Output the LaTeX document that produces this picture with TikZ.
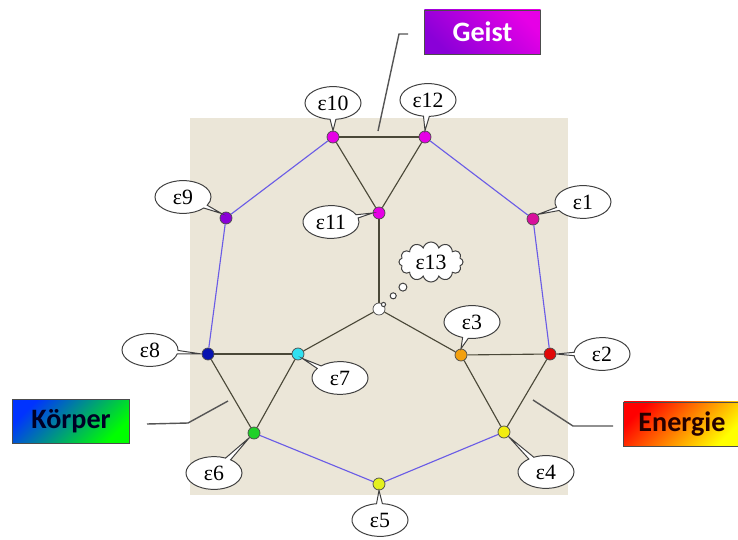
\documentclass[tikz,border=0pt]{standalone}
\usepackage{fontspec}
\setmainfont{Liberation Serif}
\newfontfamily\tagfont{Carlito}
\usetikzlibrary{shapes.geometric, shapes.symbols, shapes.callouts}
\definecolor{cpanel}{HTML}{EBE6D8}
\definecolor{cbond}{HTML}{4A4838}
\definecolor{clink}{HTML}{6A5CE6}
\definecolor{cline}{HTML}{555555}
\definecolor{cmag}{HTML}{E600E6}
\definecolor{cpurple}{HTML}{8A00D8}
\definecolor{cpink}{HTML}{D8109C}
\definecolor{cred}{HTML}{E00808}
\definecolor{corange}{HTML}{F2A010}
\definecolor{cyellow}{HTML}{F2EE10}
\definecolor{clime}{HTML}{E4F020}
\definecolor{cgreen}{HTML}{20D028}
\definecolor{ccyan}{HTML}{30E0F0}
\definecolor{cnavy}{HTML}{0814B0}
\tikzset{
  every picture/.style={line width=0.8pt},
  dot/.style={circle, draw=black!70, line width=0.5pt, fill=#1, inner sep=0pt, minimum size=0.3cm},
  lab/.style={ellipse callout, draw=black!75, fill=white, line width=0.7pt, inner sep=1pt,
    minimum width=1.4cm, minimum height=0.82cm, callout pointer arc=12,
    font=\fontsize{15.5}{15.5}\selectfont},
  bond/.style={draw=cbond},
  link/.style={draw=clink},
  leader/.style={draw=cline, line width=1pt},
  tag/.style={draw=black!70, line width=0.7pt, minimum width=2.9cm, minimum height=1.1cm,
    font=\tagfont\bfseries\fontsize{20}{20}\selectfont},
}

\begin{document}
\begin{tikzpicture}[x=0.025cm, y=-0.025cm]
  \useasboundingbox (0,0) rectangle (738,540);
  \fill[cpanel] (190,118) rectangle (568,495);
  % dots
  \node[dot=cpink] (e1) at (533,219) {};
  \node[dot=cred] (e2) at (550,354) {};
  \node[dot=corange] (e3) at (461,355) {};
  \node[dot=cyellow] (e4) at (504,432) {};
  \node[dot=clime] (e5) at (379,484) {};
  \node[dot=cgreen] (e6) at (254,433) {};
  \node[dot=ccyan] (e7) at (298,354) {};
  \node[dot=cnavy] (e8) at (208,354) {};
  \node[dot=cpurple] (e9) at (226,218) {};
  \node[dot=cmag] (e10) at (333,137) {};
  \node[dot=cmag] (e11) at (379,213) {};
  \node[dot=cmag] (e12) at (425,137) {};
  \node[dot=white] (e13) at (379,309) {};
  % edges
  \foreach \a/\b in {10/12, 10/11, 12/11, 11/13, 13/7, 13/3, 3/2, 3/4, 2/4, 8/7, 8/6, 7/6}
    \draw[bond] (e\a) -- (e\b);
  \foreach \a/\b in {10/9, 9/8, 12/1, 1/2, 6/5, 5/4}
    \draw[link] (e\a) -- (e\b);
  % callouts
  \node[lab, callout absolute pointer={(e10.north)}] (l10) at (333,103) {ε10};
  \node[lab, callout absolute pointer={(e12.north)}] (l12) at (428,100) {ε12};
  \node[lab, callout absolute pointer={(e11.west)}] (l11) at (331,222) {ε11};
  \node[lab, callout absolute pointer={(e9.north west)}] (l9) at (183,197) {ε9};
  \node[lab, callout absolute pointer={(e1.north east)}] (l1) at (583,202) {ε1};
  \node[lab, callout absolute pointer={(e3.north)}] (l3) at (472,322) {ε3};
  \node[lab, callout absolute pointer={(e2.east)}] (l2) at (602,354) {ε2};
  \node[lab, callout absolute pointer={(e8.west)}] (l8) at (150,350) {ε8};
  \node[lab, callout absolute pointer={(e7.south east)}] (l7) at (340,378) {ε7};
  \node[lab, callout absolute pointer={(e6.south west)}] (l6) at (214,473) {ε6};
  \node[lab, callout absolute pointer={(e4.south east)}] (l4) at (546,472) {ε4};
  \node[lab, callout absolute pointer={(e5.south)}] (l5) at (380,520) {ε5};
  \node[cloud callout, draw=black!75, fill=white, line width=0.7pt, cloud puffs=12, aspect=1.7,
    inner sep=0pt, minimum width=1.6cm, minimum height=1cm, font=\fontsize{15.5}{15.5}\selectfont,
    callout pointer start size=7pt, callout pointer end size=3pt, callout pointer segments=3,
    callout absolute pointer={(e13.north east)}] (l13) at (431,262) {ε13};
  % tags
  \node[tag, top color=cmag, bottom color=cpurple, shading angle=-45, text=white] (geist) at (482.5,32) {Geist};
  \node[tag, top color=blue!80!cyan, bottom color=green, shading angle=45, text=black!85!blue] (koerper) at (71,421.5) {Körper};
  \node[tag, top color=red, bottom color=yellow, shading angle=45, text=black!85!red] (energie) at (682,424) {Energie};
  % leaders
  \coordinate (g1) at (378,131); \coordinate (g2) at (399,34); \coordinate (g3) at (408,34);
  \draw[leader] (g1) -- (g2) -- (g3);
  \coordinate (k1) at (228,401); \coordinate (k2) at (188,423); \coordinate (k3) at (147,424);
  \draw[leader] (k1) -- (k2) -- (k3);
  \coordinate (n1) at (533,400); \coordinate (n2) at (573,426); \coordinate (n3) at (613,426);
  \draw[leader] (n1) -- (n2) -- (n3);
\end{tikzpicture}
\end{document}
